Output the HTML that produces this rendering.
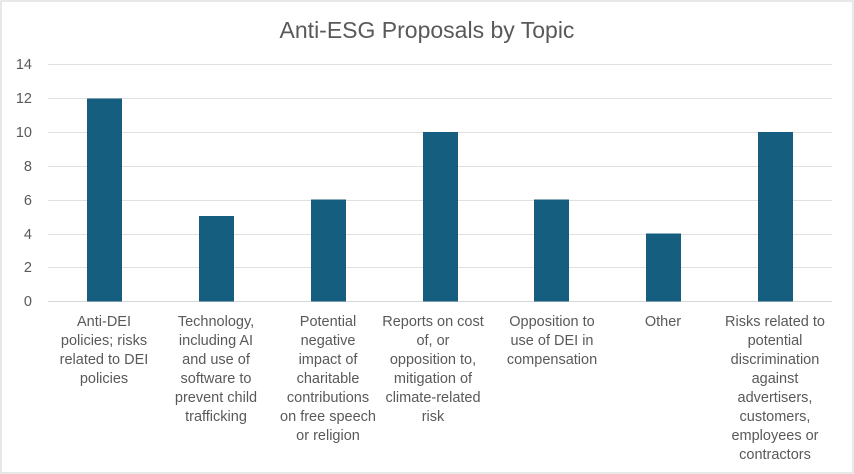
<!DOCTYPE html>
<html><head><meta charset="utf-8"><style>
html,body{margin:0;padding:0;background:#fff}
svg{display:block;font-family:"Liberation Sans",sans-serif}
</style></head><body>
<svg width="854" height="474" viewBox="0 0 854 474">
<rect x="1" y="1" width="852" height="472" fill="#fff" stroke="#d0d0d0" stroke-width="1"/>
<text x="427" y="38" text-anchor="middle" font-size="23" fill="#595959">Anti-ESG Proposals by Topic</text>
<g stroke="#e0e0e0" stroke-width="1">
<line x1="48" x2="832" y1="64.5" y2="64.5"/>
<line x1="48" x2="832" y1="98.5" y2="98.5"/>
<line x1="48" x2="832" y1="132.5" y2="132.5"/>
<line x1="48" x2="832" y1="166.5" y2="166.5"/>
<line x1="48" x2="832" y1="200.5" y2="200.5"/>
<line x1="48" x2="832" y1="234.5" y2="234.5"/>
<line x1="48" x2="832" y1="267.5" y2="267.5"/>
<line x1="48" x2="832" y1="301.5" y2="301.5" stroke="#d6d6d6"/>
</g>
<g font-size="14.5" fill="#595959" text-anchor="end">
<text x="32" y="69">14</text><text x="32" y="103">12</text><text x="32" y="137">10</text>
<text x="32" y="171">8</text><text x="32" y="205">6</text><text x="32" y="239">4</text>
<text x="32" y="272">2</text><text x="32" y="306">0</text>
</g>
<g fill="#155e80">
<rect x="87" y="98.5" width="35" height="203"/>
<rect x="199" y="216" width="35" height="85.5"/>
<rect x="311" y="199.5" width="35" height="102"/>
<rect x="423" y="132" width="35" height="169.5"/>
<rect x="534" y="199.5" width="35" height="102"/>
<rect x="646" y="233.5" width="35" height="68"/>
<rect x="758" y="132" width="35" height="169.5"/>
</g>
<g font-size="14.5" fill="#595959" text-anchor="middle">
<text x="104" y="326"><tspan x="104">Anti-DEI</tspan><tspan x="104" dy="19">policies; risks</tspan><tspan x="104" dy="19">related to DEI</tspan><tspan x="104" dy="19">policies</tspan></text>
<text x="216" y="326"><tspan x="216">Technology,</tspan><tspan x="216" dy="19">including AI</tspan><tspan x="216" dy="19">and use of</tspan><tspan x="216" dy="19">software to</tspan><tspan x="216" dy="19">prevent child</tspan><tspan x="216" dy="19">trafficking</tspan></text>
<text x="328" y="326"><tspan x="328">Potential</tspan><tspan x="328" dy="19">negative</tspan><tspan x="328" dy="19">impact of</tspan><tspan x="328" dy="19">charitable</tspan><tspan x="328" dy="19">contributions</tspan><tspan x="328" dy="19">on free speech</tspan><tspan x="328" dy="19">or religion</tspan></text>
<text x="433" y="326"><tspan x="433">Reports on cost</tspan><tspan x="433" dy="19">of, or</tspan><tspan x="433" dy="19">opposition to,</tspan><tspan x="433" dy="19">mitigation of</tspan><tspan x="433" dy="19">climate-related</tspan><tspan x="433" dy="19">risk</tspan></text>
<text x="552" y="326"><tspan x="552">Opposition to</tspan><tspan x="552" dy="19">use of DEI in</tspan><tspan x="552" dy="19">compensation</tspan></text>
<text x="663" y="326">Other</text>
<text x="775" y="326"><tspan x="775">Risks related to</tspan><tspan x="775" dy="19">potential</tspan><tspan x="775" dy="19">discrimination</tspan><tspan x="775" dy="19">against</tspan><tspan x="775" dy="19">advertisers,</tspan><tspan x="775" dy="19">customers,</tspan><tspan x="775" dy="19">employees or</tspan><tspan x="775" dy="19">contractors</tspan></text>
</g>
</svg>
</body></html>
